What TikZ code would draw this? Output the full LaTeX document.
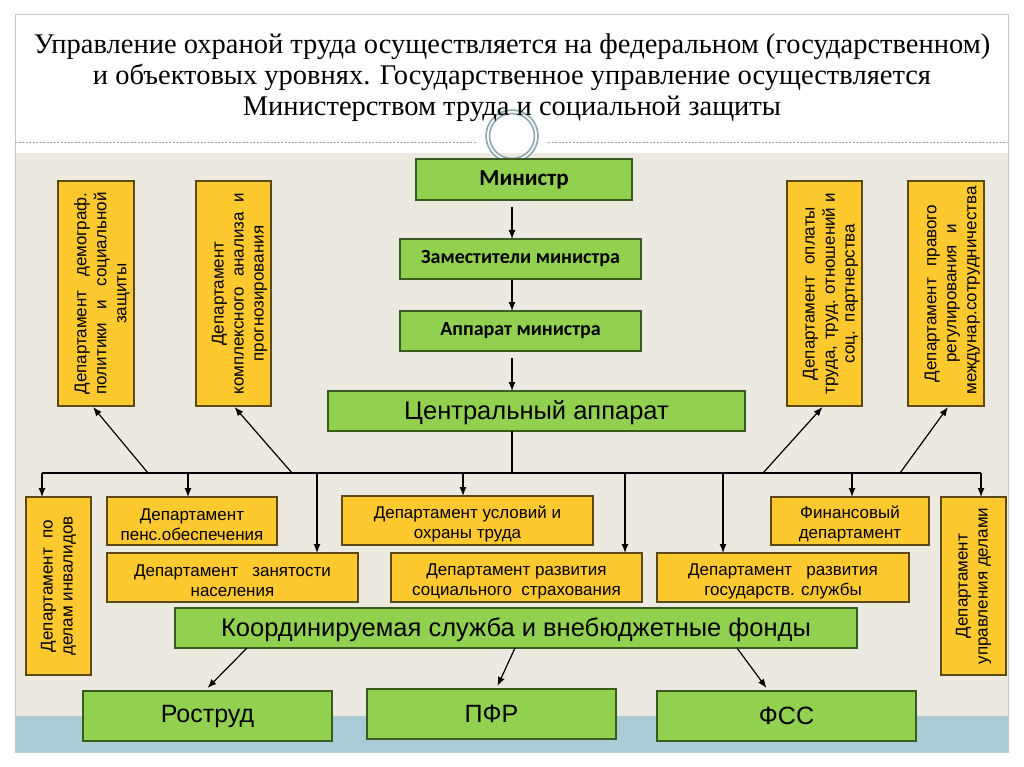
\documentclass[tikz,border=0pt]{standalone}
\usepackage{fontspec}
\setmainfont{Liberation Serif}
\newfontfamily\arial{Liberation Sans}
\newfontfamily\calib{Carlito}
\usetikzlibrary{arrows.meta}
\definecolor{ybox}{HTML}{FDC92F}
\definecolor{yline}{HTML}{5C4A12}
\definecolor{gbox}{HTML}{92D050}
\definecolor{gline}{HTML}{3B5A1E}
\definecolor{beige}{HTML}{ECEAE0}
\definecolor{bluestrip}{HTML}{A9CCD6}
\definecolor{framec}{HTML}{BCCDD2}
\definecolor{ringc}{HTML}{8DA6AC}
\newcommand\mkbox[7]{\node[#1, minimum width={#5-#3}, minimum height={#6-#4}] (#2) at ({(#3+#5)/2},{(#4+#6)/2}) {#7};}
\newcommand\mkvbox[7]{\node[#1, rotate=90, minimum width={#6-#4}, minimum height={#5-#3}] (#2) at ({(#3+#5)/2},{(#4+#6)/2}) {#7};}
\newcommand\jl[1]{\noindent\hbox to\hsize{#1}}
\newcommand\toppad{\mbox{}\\[4pt]}
\newcommand\tp{\rule{0pt}{19pt}}
\begin{document}
\begin{tikzpicture}[x=1pt,y=-1pt,
  ybox/.style={draw=yline, fill=ybox, line width=1.2pt, inner sep=0pt, outer sep=0pt,
    font=\arial\fontsize{17}{20}\selectfont, align=center},
  yvbox/.style={ybox, text width=202pt},
  gbox/.style={draw=gline, fill=gbox, line width=1.2pt, inner sep=0pt, outer sep=0pt, align=center},
  gsmall/.style={gbox, font=\calib\bfseries\fontsize{20}{22}\selectfont},
  gmin/.style={gbox, font=\calib\bfseries\fontsize{23}{25}\selectfont},
  gbig/.style={gbox, font=\arial\fontsize{25.5}{28}\selectfont},
  gbot/.style={gbox, font=\arial\fontsize{25}{28}\selectfont},
  ln/.style={line width=1.2pt, black},
  arr/.style={ln, -{Latex[length=9pt,width=7pt]}}
]
\useasboundingbox (0,0) rectangle (1024,767);
% background frame
\fill[white] (0,0) rectangle (1024,767);
\fill[beige] (15,153) rectangle (1008,716);
\fill[bluestrip] (15,716) rectangle (1008,752);
\draw[framec, line width=1pt] (15,15) rectangle (1008,752);
\draw[ringc, line width=0.8pt, dash pattern=on 2pt off 1.5pt] (15,142) -- (476,142) (548,142) -- (1008,142);
\fill[white, even odd rule] (512,136) circle[radius=26] (512,136) circle[radius=22.5];
\draw[ringc, line width=1.6pt] (512,136) circle[radius=26] (512,136) circle[radius=22.5];
% title
\node[font=\fontsize{28.5}{31}\selectfont, align=center, inner sep=0pt] (title) at (512,78)
  {Управление охраной труда осуществляется на федеральном (государственном)\\
   и объектовых уровнях. Государственное управление осуществляется\\
   Министерством труда и социальной защиты};
% green chain
\mkbox{gmin}{min}{416}{159}{632}{200}{Министр}
\mkbox{gsmall}{zam}{400}{239}{641}{279}{Заместители министра}
\mkbox{gsmall}{app}{400}{311}{641}{351}{Аппарат министра}
\mkbox{gbig}{central}{328}{391}{745}{431}{\rule{0pt}{22pt}Центральный аппарат}
% top vertical departments
\mkvbox{yvbox}{dem}{58}{181}{134}{406}{\toppad\jl{Департамент\hfill демограф.}\\\jl{политики\hfill и\hfill социальной}\\защиты}
\mkvbox{yvbox}{kompl}{196}{181}{271}{406}{\toppad Департамент\\\jl{комплексного\hfill анализа\hfill и}\\прогнозирования}
\mkvbox{yvbox}{opl}{787}{181}{862}{406}{\toppad Департамент~~оплаты\\\jl{труда,\hfill труд.\hfill отношений\hfill и}\\соц. партнерства}
\mkvbox{yvbox}{prav}{908}{181}{984}{406}{\toppad Департамент~~правого\\регулирования~~и\\\jl{междунар.сотрудничества}}
% lower departments
\mkvbox{ybox}{inv}{26}{497}{91}{675}{Департамент~~по\\делам инвалидов}
\mkbox{ybox}{pens}{107}{497}{277}{545}{\tp Департамент\\пенс.обеспечения}
\mkbox{ybox}{zan}{107}{553}{358}{602}{\tp Департамент~~~занятости\\населения}
\mkbox{ybox}{usl}{342}{496}{593}{545}{\tp Департамент условий и\\охраны труда}
\mkbox{ybox}{soc}{391}{553}{642}{602}{\tp Департамент развития\\социального~~страхования}
\mkbox{ybox}{gos}{657}{553}{909}{602}{\tp Департамент~~~развития\\государств. службы}
\mkbox{ybox}{fin}{771}{497}{929}{545}{\tp Финансовый\\департамент}
\mkvbox{ybox}{upr}{941}{497}{1006}{675}{Департамент\\управления делами}
% coordinated
\mkbox{gbig}{koord}{175}{608}{857}{648}{\rule{0pt}{22pt}Координируемая служба и внебюджетные фонды}
\mkbox{gbot}{rost}{83}{691}{332}{741}{Роструд}
\mkbox{gbot}{pfr}{367}{689}{616}{739}{ПФР}
\mkbox{gbot}{fss}{657}{691}{916}{741}{ФСС}
% chain arrows
\coordinate (col) at (512,0);
\draw[arr, shorten <=7pt] (col |- min.south) -- (col |- zam.north);
\draw[arr, shorten <=1pt] (col |- zam.south) -- (col |- app.north);
\draw[arr, shorten <=7pt] (col |- app.south) -- (col |- central.north);
% bus
\coordinate (busL) at (42,473);
\coordinate (busR) at (981,473);
\coordinate (busC) at (512,473);
\draw[ln] (busC |- central.south) -- (busC);
\draw[ln] (busL) -- (busR);
\foreach \nm/\xx in {pens/188, zan/317, usl/463, soc/625, gos/723, fin/852}{
  \coordinate (drop-\nm) at (\xx,473);
  \draw[arr] (drop-\nm) -- (drop-\nm |- \nm.north);
}
\draw[arr] (busL) -- (busL |- inv.east);
\draw[arr] (busR) -- (busR |- upr.east);
\coordinate (u1) at (148,473);
\coordinate (u2) at (292,473);
\coordinate (u3) at (763,473);
\coordinate (u4) at (900,473);
\draw[arr] (u1) -- ([xshift=-3pt,yshift=-1pt]dem.west);
\draw[arr] (u2) -- ([xshift=1pt,yshift=-1pt]kompl.west);
\draw[arr] (u3) -- ([xshift=-2pt,yshift=-1pt]opl.west);
\draw[arr] (u4) -- ([xshift=2pt,yshift=-1pt]prav.west);
% funds arrows
\coordinate (k1) at (247,648);
\coordinate (k2) at (515,648);
\coordinate (k3) at (737,648);
\draw[arr] (k1) -- ([yshift=3pt]rost.north);
\draw[arr] (k2) -- ([xshift=6pt,yshift=3pt]pfr.north);
\draw[arr] (k3) -- ([xshift=-20pt,yshift=3pt]fss.north);
\end{tikzpicture}
\end{document}
